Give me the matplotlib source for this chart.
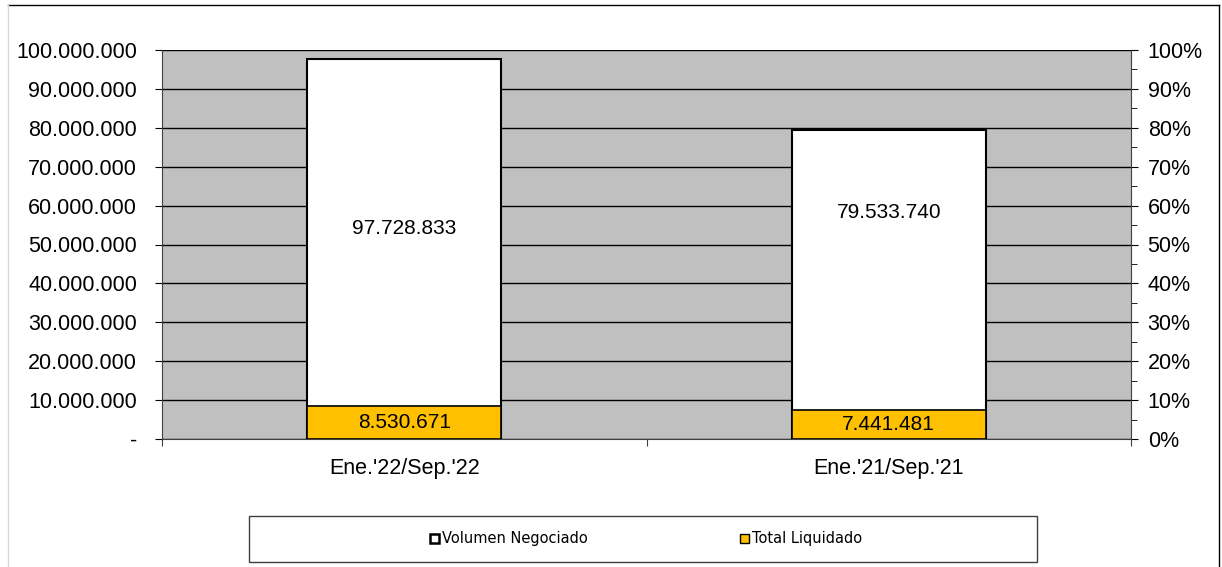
import numpy as np
import matplotlib.pyplot as plt
from matplotlib.ticker import FuncFormatter, MultipleLocator
from matplotlib.patches import Patch, Rectangle
from matplotlib.lines import Line2D

categories = ["Ene.'22/Sep.'22", "Ene.'21/Sep.'21"]
volumen = [97728833, 79533740]
liquidado = [8530671, 7441481]
# where Excel put the big labels (data units)
label_y = [54.2e6, 58.1e6]

plt.rcParams['font.family'] = ['Liberation Sans', 'DejaVu Sans']

fig = plt.figure(figsize=(12.22, 5.67), dpi=100)
ax = fig.add_axes([162/1222, 1 - 439/567, 969/1222, 389/567])
ax.set_facecolor('#C0C0C0')

x = np.arange(len(categories))
ax.bar(x, volumen, width=0.4, color='white', edgecolor='black', linewidth=1.5, zorder=3)
ax.bar(x, liquidado, width=0.4, color='#FFC000', edgecolor='black', linewidth=1.2, zorder=4)

for i in range(len(categories)):
    ax.text(x[i], label_y[i], f"{volumen[i]:,}".replace(',', '.'), ha='center', va='center',
            fontsize=15, zorder=5)
    ax.text(x[i], liquidado[i] / 2, f"{liquidado[i]:,}".replace(',', '.'), ha='center', va='center',
            fontsize=15, zorder=5)

ax.set_xlim(-0.5, 1.5)
ax.set_ylim(0, 100e6)
ax.yaxis.set_major_locator(MultipleLocator(10e6))
ax.yaxis.set_major_formatter(FuncFormatter(lambda v, p: '-' if v == 0 else f"{int(v):,}".replace(',', '.')))
ax.grid(axis='y', color='black', linewidth=1, zorder=1)
ax.set_axisbelow(True)

ax.set_xticks([-0.5, 0.5, 1.5])
ax.set_xticklabels([])
ax.set_xticks(x, minor=True)
ax.set_xticklabels(categories, minor=True, fontsize=15.5)
ax.tick_params(axis='x', which='minor', length=0, pad=14)
ax.tick_params(axis='x', which='major', length=5, color='#404040')
ax.tick_params(axis='y', length=5, labelsize=15.5, pad=13)

for s in ['top', 'right']:
    ax.spines[s].set_visible(False)
ax.spines['left'].set_color('#404040')
ax.spines['bottom'].set_color('#404040')

ax2 = ax.twinx()
ax2.set_ylim(0, 1)
ax2.yaxis.set_major_locator(MultipleLocator(0.1))
ax2.yaxis.set_minor_locator(MultipleLocator(0.05))
ax2.yaxis.set_major_formatter(FuncFormatter(lambda v, p: f"{int(round(v * 100))}%"))
ax2.tick_params(axis='y', which='major', length=5, labelsize=15.5, pad=7)
ax2.tick_params(axis='y', which='minor', length=4)
for s in ['top', 'left', 'bottom']:
    ax2.spines[s].set_visible(False)
ax2.spines['right'].set_color('#404040')

# legend box drawn separately so its size matches
fig.add_artist(Rectangle((249/1222, 1 - 562/567), 788/1222, 46/567, transform=fig.transFigure,
                         facecolor='white', edgecolor='#404040', linewidth=1))
handles = [Patch(facecolor='white', edgecolor='black', linewidth=1.8),
           Patch(facecolor='#FFC000', edgecolor='black', linewidth=1)]
lgd = fig.legend(handles, ['Volumen Negociado', 'Total Liquidado'], loc='center',
                 bbox_to_anchor=(646/1222, 1 - 539/567), ncol=2, frameon=False,
                 prop={'family': ['DejaVu Sans'], 'size': 10.5},
                 handlelength=0.6, handleheight=0.6, handletextpad=0.2,
                 borderaxespad=0, columnspacing=10.5)

# outer border
fig.add_artist(Line2D([8/1222, 1219/1222], [1 - 5/567, 1 - 5/567], color='black', lw=1))
fig.add_artist(Line2D([1219/1222, 1219/1222], [0, 1 - 5/567], color='black', lw=1))
fig.add_artist(Line2D([8/1222, 8/1222], [0, 1 - 5/567], color='#D8D8D8', lw=1))

fig.savefig('out.png', dpi=100)
